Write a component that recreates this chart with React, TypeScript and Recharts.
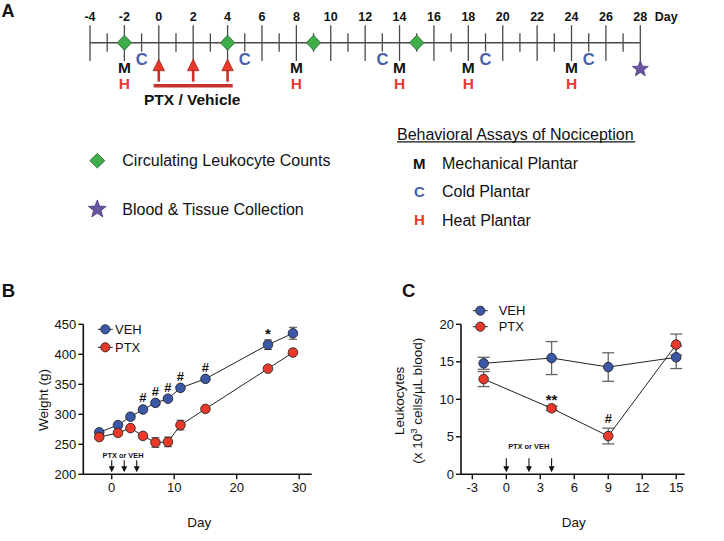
import React from 'react';
import { ComposedChart, Line, Scatter, XAxis, YAxis, ErrorBar } from 'recharts';

const FONT = '"Liberation Sans", Arial, Helvetica, sans-serif';

// ---------- Panel A: study timeline (days) ----------
const timelineTickDays = [-4, -3, -2, -1, 0, 1, 2, 3, 4, 5, 6, 7, 8, 9, 10, 11, 12, 13, 14, 15, 16, 17, 18, 19, 20, 21, 22, 23, 24, 25, 26, 27, 28];
const timelineLabelDays = [-4, -2, 0, 2, 4, 6, 8, 10, 12, 14, 16, 18, 20, 22, 24, 26, 28];
const leukocyteCountDays = [-2, 4, 9, 15];
const coldPlantarDays = [-1, 5, 13, 19, 25];
const mechanicalPlantarDays = [-2, 8, 14, 18, 24];
const heatPlantarDays = [-2, 8, 14, 18, 24];
const injectionDays = [0, 2, 4];
const treatmentBarDays = [-0.3, 4.3];
const collectionDays = [28];

// ---------- Panel B: body weight (g) ----------
const weightDays = [-2, 1, 3, 5, 7, 9, 11, 15, 25, 29];
const weightVeh = [270, 282, 296, 308, 319, 326, 344, 359, 416, 435];
const weightVehSem = [3, 3, 3, 3, 3, 3, 3, 3, 8, 10];
const weightPtx = [262, 269, 277, 264, 253, 254, 282, 309, 376, 403];
const weightPtxSem = [3, 3, 3, 3, 8, 8, 8, 3, 3, 3];
const weightVehMarks = ['', '', '', '#', '#', '#', '#', '#', '*', ''];
const weightTicks = [200, 250, 300, 350, 400, 450];
const weightDayTicks = [0, 10, 20, 30];

// ---------- Panel C: circulating leukocytes ----------
const leukDays = [-2, 4, 9, 15];
const leukVeh = [14.8, 15.5, 14.3, 15.6];
const leukVehSem = [0.8, 2.2, 1.9, 1.5];
const leukPtx = [12.7, 8.8, 5.1, 17.3];
const leukPtxSem = [1.0, 0.3, 1.05, 1.4];
const leukPtxMarks = ['', '**', '#', ''];
const leukTicks = [0, 5, 10, 15, 20];
const leukDayTicks = [-3, 0, 3, 6, 9, 12, 15];

// ---------- colours ----------
const BLUE = '#3b58a6';
const RED = '#e8392b';
const GREEN = '#3fae4a';
const PURPLE = '#6a55a3';
const C_BLUE = '#4762ab';
const H_RED = '#e33b2e';
const BAR_RED = '#c5352b';

// row positions (layout) for the timeline chart, whose hidden y axis runs 0..130 top-down
const LANE = { label: 16.7, axis: 42.7, cold: 59.5, mech: 67, heat: 83, arrow: 59.3, bar: 85.7, star: 69 };

const rows = (days: number[], lane: number) => days.map((d) => ({ day: d, lane }));

function starPoints(cx: number, cy: number, R: number, r: number) {
  const pts: string[] = [];
  for (let i = 0; i < 10; i++) {
    const a = -Math.PI / 2 + (i * Math.PI) / 5;
    const rad = i % 2 === 0 ? R : r;
    pts.push(`${(cx + rad * Math.cos(a)).toFixed(2)},${(cy + rad * Math.sin(a)).toFixed(2)}`);
  }
  return pts.join(' ');
}

const Diamond = ({ cx, cy, w = 7.2, h = 7.5 }: any) => (
  <polygon points={`${cx},${cy - h} ${cx + w},${cy} ${cx},${cy + h} ${cx - w},${cy}`} fill={GREEN} stroke="#1f5a2a" strokeWidth={0.8} />
);
const Star = ({ cx, cy, R = 8.4 }: any) => (
  <polygon points={starPoints(cx, cy, R, R * 0.42)} fill={PURPLE} stroke="#3b2e6a" strokeWidth={0.7} />
);

const DayLabel = (p: any) => (
  <text x={p.cx} y={p.cy} dy="0.36em" textAnchor="middle" fontSize={12.5} fontWeight="bold" fill="#111" fontFamily={FONT}>
    {p.payload.day}
  </text>
);

const TickMark = (p: any) => {
  const major = p.payload.day % 2 === 0;
  return (
    <line x1={p.cx} x2={p.cx} y1={p.cy - (major ? 17.5 : 9.4)} y2={p.cy + (major ? 18.3 : 9)} stroke="#4a4a4a" strokeWidth={1.3} />
  );
};

const letterShape = (letter: string, color: string, size: number) => (p: any) => (
  <text x={p.cx} y={p.cy} dy="0.36em" textAnchor="middle" fontSize={size} fontWeight="bold" fill={color} fontFamily={FONT}>
    {letter}
  </text>
);

const RedArrow = (p: any) => {
  const { cx, cy } = p;
  return (
    <g>
      <rect x={cx - 1.3} y={cy + 10} width={2.6} height={12.4} fill="#d0302a" />
      <polygon points={`${cx},${cy} ${cx + 5.7},${cy + 11.4} ${cx - 5.7},${cy + 11.4}`} fill={RED} stroke="#a11f16" strokeWidth={0.8} />
    </g>
  );
};

const injectionArrow = (len: number) => (p: any) => {
  const { cx, cy } = p;
  const tip = cy - 2;
  return (
    <g>
      <line x1={cx} x2={cx} y1={tip - len} y2={tip - 5} stroke="#111" strokeWidth={1.1} />
      <polygon points={`${cx},${tip} ${cx + 3},${tip - 6} ${cx - 3},${tip - 6}`} fill="#111" />
    </g>
  );
};

const MarkText = (p: any) => {
  const m = p.payload.mark as string;
  const isStar = m.includes('*');
  const size = isStar ? 15 : 13;
  const centre = p.cy - 10;
  const baseline = isStar ? centre + size * 0.58 : centre + size * 0.36;
  return (
    <text x={p.cx} y={baseline} textAnchor="middle" fontSize={size} fontWeight="bold" fill="#111" fontFamily={FONT}>
      {m}
    </text>
  );
};

const dotOf = (color: string) => (p: any) => (
  <circle key={`dot-${p.index}`} cx={p.cx} cy={p.cy} r={4.8} fill={color} stroke="#1c1c1c" strokeWidth={0.8} />
);

const axisProps = {
  axisLine: { stroke: '#111', strokeWidth: 1.6 },
  tickLine: { stroke: '#111', strokeWidth: 1.4 },
  tickSize: 5,
  tick: { fontSize: 13, fill: '#111', fontFamily: FONT },
};

function TimelineChart() {
  const axisRow = [{ day: -4, lane: LANE.axis }, { day: 28, lane: LANE.axis }];
  const barRow = treatmentBarDays.map((d) => ({ day: d, lane: LANE.bar }));
  return (
    <ComposedChart width={724} height={130} margin={{ top: 0, right: 83.7, bottom: 0, left: 90 }} style={{ fontFamily: FONT }}>
      <XAxis type="number" dataKey="day" domain={[-4, 28]} hide />
      <YAxis type="number" dataKey="lane" domain={[0, 130]} reversed hide />
      <Line data={axisRow} dataKey="lane" stroke="#4a4a4a" strokeWidth={1.6} dot={false} isAnimationActive={false} />
      <Line data={barRow} dataKey="lane" stroke={BAR_RED} strokeWidth={3.6} dot={false} isAnimationActive={false} />
      <Scatter data={rows(timelineLabelDays, LANE.label)} shape={DayLabel} isAnimationActive={false} />
      <Scatter data={rows(timelineTickDays, LANE.axis)} shape={TickMark} isAnimationActive={false} />
      <Scatter data={rows(leukocyteCountDays, LANE.axis)} shape={(p: any) => <Diamond cx={p.cx} cy={p.cy} />} isAnimationActive={false} />
      <Scatter data={rows(coldPlantarDays, LANE.cold)} shape={letterShape('C', C_BLUE, 16.5)} isAnimationActive={false} />
      <Scatter data={rows(mechanicalPlantarDays, LANE.mech)} shape={letterShape('M', '#111', 15.5)} isAnimationActive={false} />
      <Scatter data={rows(heatPlantarDays, LANE.heat)} shape={letterShape('H', H_RED, 15.5)} isAnimationActive={false} />
      <Scatter data={rows(injectionDays, LANE.arrow)} shape={RedArrow} isAnimationActive={false} />
      <Scatter data={rows(collectionDays, LANE.star)} shape={(p: any) => <Star cx={p.cx} cy={p.cy} />} isAnimationActive={false} />
    </ComposedChart>
  );
}

function WeightChart() {
  const vehRows = weightDays.map((d, i) => ({ day: d, v: weightVeh[i], e: weightVehSem[i] }));
  const ptxRows = weightDays.map((d, i) => ({ day: d, v: weightPtx[i], e: weightPtxSem[i] }));
  const marks = weightDays
    .map((d, i) => ({ day: d, v: weightVeh[i] + weightVehSem[i], mark: weightVehMarks[i] }))
    .filter((r) => r.mark);
  const arrows = injectionDays.map((d) => ({ day: d, v: weightTicks[0] }));
  return (
    <ComposedChart width={362} height={271} margin={{ top: 54.3, right: 50.3, bottom: 36.7, left: 43.3 }} style={{ fontFamily: FONT }}>
      <XAxis type="number" dataKey="day" domain={[-4.55, 32]} ticks={weightDayTicks} interval={0} height={30} tickMargin={3} {...axisProps} />
      <YAxis type="number" domain={[200, 450]} ticks={weightTicks} interval={0} width={40} tickMargin={2} {...axisProps} />
      <Line data={vehRows} dataKey="v" stroke="#222" strokeWidth={1} dot={dotOf(BLUE)} isAnimationActive={false}>
        <ErrorBar dataKey="e" direction="y" width={4} stroke="#555" strokeWidth={1.1} />
      </Line>
      <Line data={ptxRows} dataKey="v" stroke="#222" strokeWidth={1} dot={dotOf(RED)} isAnimationActive={false}>
        <ErrorBar dataKey="e" direction="y" width={4} stroke="#555" strokeWidth={1.1} />
      </Line>
      <Scatter data={marks} dataKey="v" shape={MarkText} isAnimationActive={false} />
      <Scatter data={arrows} dataKey="v" shape={injectionArrow(12)} isAnimationActive={false} />
    </ComposedChart>
  );
}

function LeukocyteChart() {
  const vehRows = leukDays.map((d, i) => ({ day: d, v: leukVeh[i], e: leukVehSem[i] }));
  const ptxRows = leukDays.map((d, i) => ({ day: d, v: leukPtx[i], e: leukPtxSem[i] }));
  const marks = leukDays
    .map((d, i) => ({ day: d, v: leukPtx[i] + leukPtxSem[i], mark: leukPtxMarks[i] }))
    .filter((r) => r.mark);
  const arrows = injectionDays.map((d) => ({ day: d, v: leukTicks[0] }));
  return (
    <ComposedChart width={362} height={271} margin={{ top: 54.3, right: 39.3, bottom: 36.7, left: 59 }} style={{ fontFamily: FONT }}>
      <XAxis type="number" dataKey="day" domain={[-4, 15.75]} ticks={leukDayTicks} interval={0} height={30} tickMargin={3} {...axisProps} />
      <YAxis type="number" domain={[0, 20]} ticks={leukTicks} interval={0} width={40} tickMargin={2} {...axisProps} />
      <Line data={vehRows} dataKey="v" stroke="#222" strokeWidth={1} dot={dotOf(BLUE)} isAnimationActive={false}>
        <ErrorBar dataKey="e" direction="y" width={6} stroke="#666" strokeWidth={1.3} />
      </Line>
      <Line data={ptxRows} dataKey="v" stroke="#222" strokeWidth={1} dot={dotOf(RED)} isAnimationActive={false}>
        <ErrorBar dataKey="e" direction="y" width={6} stroke="#666" strokeWidth={1.3} />
      </Line>
      <Scatter data={marks} dataKey="v" shape={MarkText} isAnimationActive={false} />
      <Scatter data={arrows} dataKey="v" shape={injectionArrow(14)} isAnimationActive={false} />
    </ComposedChart>
  );
}

const LegendItem = ({ x, y, color, label, textX }: any) => (
  <g>
    <line x1={x - 7.5} x2={x + 7.5} y1={y} y2={y} stroke="#222" strokeWidth={1} />
    <circle cx={x} cy={y} r={4.6} fill={color} stroke="#1c1c1c" strokeWidth={0.8} />
    <text x={textX} y={y} dy="0.36em" fontSize={13} fill="#111">{label}</text>
  </g>
);

function Overlay() {
  return (
    <svg width={724} height={541} style={{ position: 'absolute', left: 0, top: 0, pointerEvents: 'none' }} fontFamily={FONT}>
      {/* Panel A labels */}
      <text x={1.5} y={16.5} fontSize={18} fontWeight="bold" fill="#111">A</text>
      <text x={654.7} y={16.7} dy="0.36em" fontSize={12.5} fontWeight="bold" fill="#111">Day</text>
      <text x={192.2} y={99.7} dy="0.36em" textAnchor="middle" fontSize={15.5} fontWeight="bold" fill="#111">PTX / Vehicle</text>

      <Diamond cx={97.3} cy={160.7} w={7.5} h={7.3} />
      <text x={122.3} y={160.7} dy="0.36em" fontSize={16} fill="#111">Circulating Leukocyte Counts</text>
      <Star cx={97.3} cy={209.3} R={9.4} />
      <text x={122.3} y={209.3} dy="0.36em" fontSize={16} fill="#111">Blood &amp; Tissue Collection</text>

      <text x={397} y={134} dy="0.36em" fontSize={16} fill="#111">Behavioral Assays of Nociception</text>
      <line x1={397} x2={635.3} y1={141.9} y2={141.9} stroke="#111" strokeWidth={1.2} />
      <text x={419.3} y={163.3} dy="0.36em" textAnchor="middle" fontSize={15} fontWeight="bold" fill="#111">M</text>
      <text x={442} y={163.3} dy="0.36em" fontSize={16} fill="#111">Mechanical Plantar</text>
      <text x={419.3} y={191.7} dy="0.36em" textAnchor="middle" fontSize={15} fontWeight="bold" fill={C_BLUE}>C</text>
      <text x={442} y={191.7} dy="0.36em" fontSize={16} fill="#111">Cold Plantar</text>
      <text x={419.3} y={220} dy="0.36em" textAnchor="middle" fontSize={15} fontWeight="bold" fill={H_RED}>H</text>
      <text x={442} y={220} dy="0.36em" fontSize={16} fill="#111">Heat Plantar</text>

      {/* Panel B labels */}
      <text x={1.7} y={296.7} fontSize={18.5} fontWeight="bold" fill="#111">B</text>
      <text transform="translate(43.3,400) rotate(-90)" dy="0.36em" textAnchor="middle" fontSize={13.5} fill="#111">Weight (g)</text>
      <text x={199.3} y={522.3} dy="0.36em" textAnchor="middle" fontSize={13.5} fill="#111">Day</text>
      <LegendItem x={105.3} y={329.3} color={BLUE} label="VEH" textX={115} />
      <LegendItem x={105.3} y={347.3} color={RED} label="PTX" textX={115} />
      <text x={123} y={455} dy="0.36em" textAnchor="middle" fontSize={7.4} fontWeight="bold" fill="#111">PTX or VEH</text>

      {/* Panel C labels */}
      <text x={402} y={296.7} fontSize={18.5} fontWeight="bold" fill="#111">C</text>
      <text transform="translate(399.3,400.8) rotate(-90)" dy="0.36em" textAnchor="middle" fontSize={13.5} fill="#111">Leukocytes</text>
      <text transform="translate(417,400.8) rotate(-90)" dy="0.36em" textAnchor="middle" fontSize={13.5} fill="#111">
        (x 10<tspan dy="-5" fontSize={9.5}>3</tspan><tspan dy="5"> cells/µL blood)</tspan>
      </text>
      <text x={573.7} y={522.3} dy="0.36em" textAnchor="middle" fontSize={13.5} fill="#111">Day</text>
      <LegendItem x={480.3} y={310.7} color={BLUE} label="VEH" textX={498.7} />
      <LegendItem x={480.3} y={326.7} color={RED} label="PTX" textX={498.7} />
      <text x={528.7} y={446} dy="0.36em" textAnchor="middle" fontSize={7.4} fontWeight="bold" fill="#111">PTX or VEH</text>
    </svg>
  );
}

export default function App() {
  return (
    <div style={{ position: 'absolute', left: 0, top: 0, width: 724, height: 541, background: '#fff', fontFamily: FONT, overflow: 'hidden' }}>
      <div style={{ position: 'absolute', left: 0, top: 0 }}>
        <TimelineChart />
      </div>
      <div style={{ position: 'absolute', left: 0, top: 270 }}>
        <WeightChart />
      </div>
      <div style={{ position: 'absolute', left: 362, top: 270 }}>
        <LeukocyteChart />
      </div>
      <Overlay />
    </div>
  );
}
